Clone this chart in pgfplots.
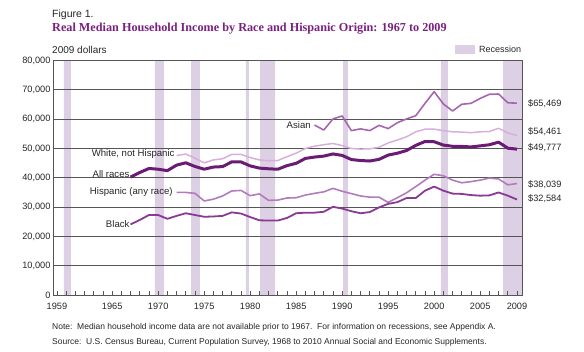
\documentclass[border=0pt]{standalone}
\usepackage{fontspec}
\setmainfont{Liberation Sans}
\newfontfamily\titlefont{Liberation Serif}
\usepackage{pgfplots}
\pgfplotsset{compat=1.18}
\definecolor{allraces}{HTML}{6A1B74}
\definecolor{blackc}{HTML}{8A3A94}
\definecolor{hisp}{HTML}{B27BBD}
\definecolor{asian}{HTML}{A466AF}
\definecolor{whitenh}{HTML}{D6AFDA}
\definecolor{recess}{HTML}{DDCFE4}
\definecolor{titlec}{HTML}{7B1F80}
\definecolor{gridc}{HTML}{555555}
\pgfplotsset{
  mygeom/.style={at={(53bp,57bp)}, anchor=south west, scale only axis,
  width=469.5bp, height=234.4bp,
  xmin=1958.57, xmax=2009.6, ymin=0, ymax=80000}
}
\begin{document}
\begin{tikzpicture}
\path[use as bounding box] (0bp,0bp) rectangle (584bp,352bp);
% background axis: recession bands
\begin{axis}[mygeom, hide axis]
\addplot[draw=none, fill=recess] coordinates {(1959.76,0) (1959.76,80000) (1960.52,80000) (1960.52,0)} \closedcycle;
\addplot[draw=none, fill=recess] coordinates {(1969.65,0) (1969.65,80000) (1970.63,80000) (1970.63,0)} \closedcycle;
\addplot[draw=none, fill=recess] coordinates {(1973.57,0) (1973.57,80000) (1974.54,80000) (1974.54,0)} \closedcycle;
\addplot[draw=none, fill=recess] coordinates {(1979.54,0) (1979.54,80000) (1979.87,80000) (1979.87,0)} \closedcycle;
\addplot[draw=none, fill=recess] coordinates {(1981.07,0) (1981.07,80000) (1982.70,80000) (1982.70,0)} \closedcycle;
\addplot[draw=none, fill=recess] coordinates {(1990.09,0) (1990.09,80000) (1990.63,80000) (1990.63,0)} \closedcycle;
\addplot[draw=none, fill=recess] coordinates {(2000.74,0) (2000.74,80000) (2001.50,80000) (2001.50,0)} \closedcycle;
\addplot[draw=none, fill=recess] coordinates {(2007.48,0) (2007.48,80000) (2009.60,80000) (2009.60,0)} \closedcycle;
\end{axis}
\begin{axis}[
  mygeom,
  axis line style={draw=gridc, line width=0.9bp},
  xtick={1959,1965,1970,1975,1980,1985,1990,1995,2000,2005,2009},
  xticklabels={1959,1965,1970,1975,1980,1985,1990,1995,2000,2005,2009},
  minor xtick={1960,1961,...,2008},
  xtick pos=left,
  tick align=inside,
  major tick length=4bp, minor tick length=4bp,
  tick style={draw=gridc, line width=0.7bp},
  ytick={0,10000,20000,30000,40000,50000,60000,70000,80000},
  yticklabels={0,{10,000},{20,000},{30,000},{40,000},{50,000},{60,000},{70,000},{80,000}},
  scaled y ticks=false,
  ytick style={draw=none},
  ymajorgrids,
  grid style={draw=gridc, line width=0.8bp},
  tick label style={font=\fontsize{9.2bp}{11bp}\selectfont, text=black!85},
  xticklabel style={yshift=-5bp},
  yticklabel style={xshift=1bp},
]
% White, not Hispanic
\addplot[whitenh, line width=1.5bp, line join=round, mark=none] coordinates {
(1972,47600)(1973,48100)(1974,46700)(1975,45100)(1976,46100)(1977,46500)(1978,48000)(1979,48000)
(1980,46900)(1981,46100)(1982,45800)(1983,45900)(1984,47200)(1985,48400)(1986,50000)(1987,50800)
(1988,51300)(1989,51700)(1990,51000)(1991,50000)(1992,49800)(1993,49900)(1994,50400)(1995,51900)
(1996,52900)(1997,54000)(1998,55700)(1999,56600)(2000,56600)(2001,56100)(2002,55700)(2003,55600)
(2004,55400)(2005,55700)(2006,55800)(2007,56900)(2008,55300)(2009,54461)};
% Hispanic
\addplot[hisp, line width=1.6bp, line join=round, mark=none] coordinates {
(1972,35000)(1973,35000)(1974,34700)(1975,32100)(1976,32700)(1977,33800)(1978,35500)(1979,35700)
(1980,33900)(1981,34500)(1982,32300)(1983,32400)(1984,33100)(1985,33200)(1986,34100)(1987,34700)
(1988,35200)(1989,36400)(1990,35400)(1991,34600)(1992,33800)(1993,33400)(1994,33400)(1995,31600)
(1996,33200)(1997,34900)(1998,37000)(1999,39200)(2000,41200)(2001,40700)(2002,39200)(2003,38300)
(2004,38700)(2005,39200)(2006,39900)(2007,39600)(2008,37600)(2009,38039)};
% Asian
\addplot[asian, line width=1.6bp, line join=round, mark=none] coordinates {
(1987,58000)(1988,56300)(1989,60100)(1990,61100)(1991,56100)(1992,56700)(1993,56100)(1994,57900)
(1995,56800)(1996,58800)(1997,60100)(1998,61200)(1999,65400)(2000,69400)(2001,65200)(2002,62800)
(2003,65100)(2004,65400)(2005,67100)(2006,68500)(2007,68600)(2008,65600)(2009,65469)};
% Black
\addplot[blackc, line width=1.8bp, line join=round, mark=none] coordinates {
(1967,24100)(1968,25600)(1969,27300)(1970,27300)(1971,26000)(1972,27000)(1973,27900)(1974,27300)
(1975,26700)(1976,26800)(1977,27000)(1978,28200)(1979,27800)(1980,26600)(1981,25500)(1982,25400)
(1983,25400)(1984,26300)(1985,27900)(1986,28100)(1987,28100)(1988,28400)(1989,30100)(1990,29500)
(1991,28600)(1992,27900)(1993,28300)(1994,29900)(1995,31100)(1996,31700)(1997,33100)(1998,33100)
(1999,35600)(2000,37000)(2001,35600)(2002,34600)(2003,34500)(2004,34100)(2005,33900)(2006,34000)
(2007,35000)(2008,33900)(2009,32584)};
% All races
\addplot[allraces, line width=3bp, line join=round, mark=none] coordinates {
(1967,40261)(1968,41794)(1969,43183)(1970,42928)(1971,42441)(1972,44321)(1973,45114)(1974,43867)
(1975,42936)(1976,43669)(1977,43815)(1978,45445)(1979,45417)(1980,44059)(1981,43311)(1982,43076)
(1983,42917)(1984,44155)(1985,44946)(1986,46607)(1987,47080)(1988,47396)(1989,48143)(1990,47639)
(1991,46223)(1992,45895)(1993,45728)(1994,46286)(1995,47748)(1996,48392)(1997,49309)(1998,51065)
(1999,52388)(2000,52301)(2001,51161)(2002,50756)(2003,50711)(2004,50535)(2005,50899)(2006,51278)
(2007,52163)(2008,50112)(2009,49777)};

% series labels
\node[anchor=east, inner sep=0pt, font=\fontsize{9.6bp}{11bp}\selectfont, text=black!85] at (axis cs:1971.8,48100) {White, not Hispanic};
\node[anchor=east, inner sep=0pt, font=\fontsize{9.6bp}{11bp}\selectfont, text=black!85] at (axis cs:1966.9,41300) {All races};
\node[anchor=east, inner sep=0pt, font=\fontsize{9.6bp}{11bp}\selectfont, text=black!85] at (axis cs:1971.6,35000) {Hispanic (any race)};
\node[anchor=east, inner sep=0pt, font=\fontsize{9.6bp}{11bp}\selectfont, text=black!85] at (axis cs:1966.9,24100) {Black};
\node[anchor=east, inner sep=0pt, font=\fontsize{9.6bp}{11bp}\selectfont, text=black!85] at (axis cs:1986.6,58000) {Asian};
\end{axis}
% right-hand value labels and texts (absolute positions, bp from bottom-left)
\begin{scope}[every node/.style={anchor=base west, inner sep=0pt, font=\fontsize{9.2bp}{11bp}\selectfont, text=black!85}]
\node at (528bp,352bp-106.5bp) {\$65,469};
\node at (528bp,352bp-135bp) {\$54,461};
\node at (528bp,352bp-150.5bp) {\$49,777};
\node at (528bp,352bp-188bp) {\$38,039};
\node at (528bp,352bp-202bp) {\$32,584};
\end{scope}
\node[anchor=base west, inner sep=0pt, font=\fontsize{10.5bp}{12bp}\selectfont, text=black!85] at (52bp,352bp-18bp) {Figure 1.};
\node[anchor=base west, inner sep=0pt, font=\titlefont\bfseries\fontsize{12.2bp}{14bp}\selectfont, text=titlec] at (52bp,352bp-32bp) {Real Median Household Income by Race and Hispanic Origin: 1967 to 2009};
\node[anchor=base west, inner sep=0pt, font=\fontsize{10bp}{12bp}\selectfont, text=black!85] at (52bp,352bp-54bp) {2009 dollars};
\fill[recess] (455bp,352bp-54bp) rectangle (475bp,352bp-45bp);
\node[anchor=base west, inner sep=0pt, font=\fontsize{9bp}{11bp}\selectfont, text=black!85] at (479bp,352bp-53bp) {Recession};
\node[anchor=base west, inner sep=0pt, font=\fontsize{8.5bp}{10bp}\selectfont, text=black!85] at (52bp,352bp-329bp) {Note:\ \ Median household income data are not available prior to 1967.\ \ For information on recessions, see Appendix A.};
\node[anchor=base west, inner sep=0pt, font=\fontsize{8.5bp}{10bp}\selectfont, text=black!85] at (52bp,352bp-344bp) {Source:\ \ U.S. Census Bureau, Current Population Survey, 1968 to 2010 Annual Social and Economic Supplements.};
\end{tikzpicture}
\end{document}
